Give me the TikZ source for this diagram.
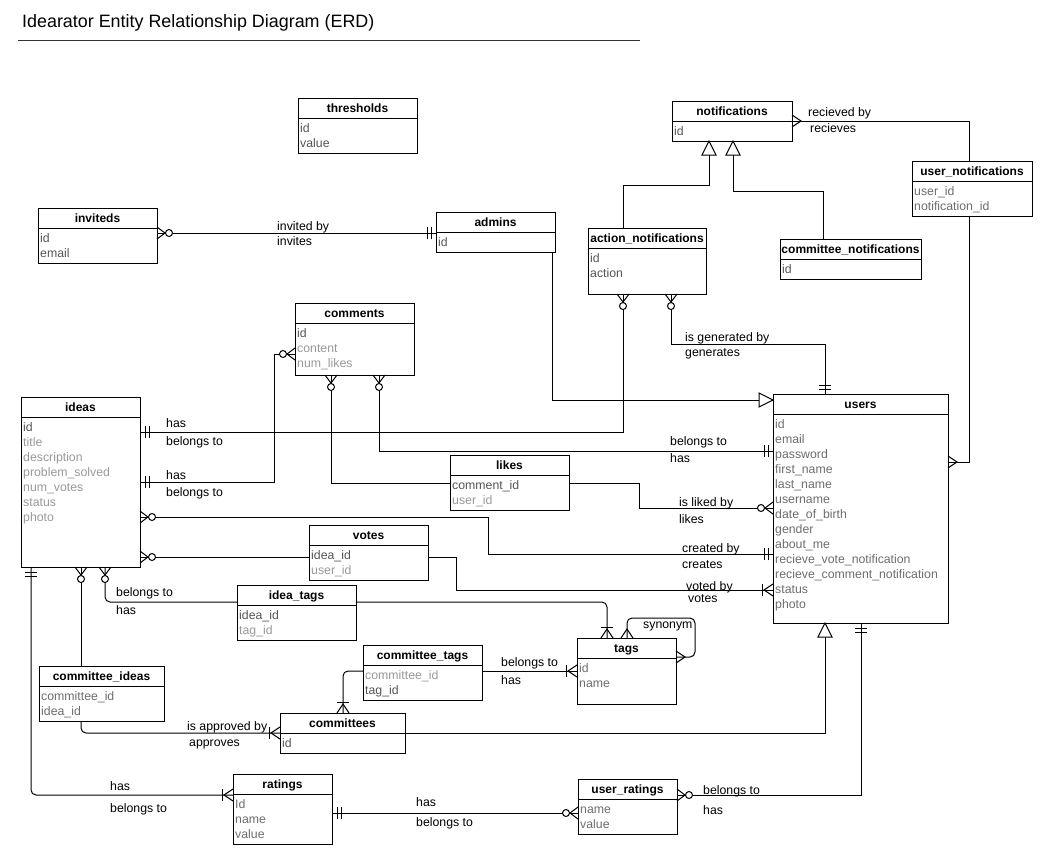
\documentclass[tikz,border=0pt]{standalone}
\usepackage{fontspec}
\setmainfont{Liberation Sans}
\usetikzlibrary{calc}
\definecolor{fd}{HTML}{555555}
\definecolor{fm}{HTML}{6E6E6E}
\definecolor{fl}{HTML}{9A9A9A}
\tikzset{
  ebox/.style={draw, line width=1pt, fill=white, anchor=north west, inner sep=0pt, outer sep=0pt},
  etitle/.style={font=\bfseries\fontsize{12}{14}\selectfont, inner sep=0pt, text height=9pt, text depth=2.5pt, yshift=-1pt},
  efield/.style={font=\fontsize{12.3}{14}\selectfont, anchor=west, inner sep=0pt, text height=9pt, text depth=2.5pt, yshift=-1.5pt},
  lbl/.style={font=\fontsize{12.3}{14}\selectfont, anchor=west, inner sep=0pt, text height=9pt, text depth=2.5pt, yshift=-1.5pt},
  conn/.style={line width=1pt},
  rconn/.style={line width=1pt, rounded corners=5pt},
  pics/zmany/.style={code={
    \draw[line width=1pt] (0,-6) -- (8,0) -- (0,6);
    \draw[line width=1pt, fill=white] (12,0) circle[radius=3.5];}},
  pics/many/.style={code={
    \draw[line width=1pt] (0,-6) -- (9,0) -- (0,6);}},
  pics/onemany/.style={code={
    \draw[line width=1pt] (0,-6) -- (9,0) -- (0,6);
    \draw[line width=1pt] (11,-6) -- (11,6);}},
  pics/oneone/.style={code={
    \draw[line width=1pt] (5,-6) -- (5,6);
    \draw[line width=1pt] (9,-6) -- (9,6);}},
  pics/isa/.style={code={
    \draw[line width=1pt, fill=white] (0,0) -- (14,-7) -- (14,7) -- cycle;}},
}
\newcommand{\ent}[7]{%
  \node[ebox, minimum width=#4pt, minimum height=#5pt] (#1) at (#2,#3) {};
  \draw[line width=1pt] ([yshift=-20pt]#1.north west) -- ([yshift=-20pt]#1.north east);
  \node[etitle] (#1-title) at ([yshift=-10pt]#1.north) {#6};
  \foreach \ftxt/\fcol [count=\fno] in {#7} {
    \node[efield, text=\fcol] (#1-f\fno) at ($(#1.north west)+(2,{15+15*\fno})$) {\ftxt};
  }%
}
\begin{document}
\begin{tikzpicture}[x=1pt,y=-1pt]
\useasboundingbox (0,0) rectangle (1052,865);
\fill[white] (0,0) rectangle (1052,865);

% title
\node[anchor=west, inner sep=0pt, font=\fontsize{17.9}{21}\selectfont] (title) at (22,23) {Idearator Entity Relationship Diagram (ERD)};
\draw[line width=1pt, black!80] (18,40) -- (640,40);

% entities
\ent{thresholds}{298}{98}{119}{55}{thresholds}{id/fd, value/fd}
\ent{inviteds}{38}{208}{119}{55}{inviteds}{id/fd, email/fd}
\ent{admins}{436}{212}{119}{40}{admins}{id/fd}
\ent{notifications}{672}{101}{120}{40}{notifications}{id/fd}
\ent{action}{588}{228}{118}{66}{action\_notifications}{id/fd, action/fd}
\ent{cnotif}{780}{239}{141}{40}{committee\_notifications}{id/fd}
\ent{unotif}{912}{161}{120}{55}{user\_notifications}{user\_id/fm, notification\_id/fm}
\ent{comments}{295}{303}{119}{72}{comments}{id/fd, content/fl, num\_likes/fl}
\ent{ideas}{21}{397}{119}{170}{ideas}{id/fd, title/fl, description/fl, problem\_solved/fl, num\_votes/fl, status/fl, photo/fl}
\ent{users}{773}{394}{175}{229}{users}{id/fm, email/fm, password/fm, first\_name/fm, last\_name/fm, username/fm, date\_of\_birth/fm, gender/fm, about\_me/fm, recieve\_vote\_notification/fm, recieve\_comment\_notification/fm, status/fm, photo/fm}
\ent{likes}{450}{455}{119}{55}{likes}{comment\_id/fd, user\_id/fl}
\ent{votes}{309}{525}{119}{55}{votes}{idea\_id/fd, user\_id/fl}
\ent{ideatags}{237}{585}{119}{55}{idea\_tags}{idea\_id/fd, tag\_id/fl}
\ent{tags}{577}{638}{99}{66}{tags}{id/fm, name/fm}
\ent{ctags}{363}{645}{119}{55}{committee\_tags}{committee\_id/fl, tag\_id/fd}
\ent{cideas}{39}{666}{125}{55}{committee\_ideas}{committee\_id/fm, idea\_id/fm}
\ent{committees}{280}{713}{125}{40}{committees}{id/fd}
\ent{ratings}{233}{774}{99}{70}{ratings}{Id/fm, name/fm, value/fm}
\ent{uratings}{578}{779}{99}{55}{user\_ratings}{name/fm, value/fm}

% ports
\coordinate (p1a) at ($(inviteds.north east)+(0,25)$);
\coordinate (p1b) at ($(admins.north west)+(0,21)$);
\coordinate (p2a) at ($(admins.south east)+(-3,0)$);
\coordinate (p2b) at ($(users.north west)+(0,6)$);
\coordinate (p3a) at ($(notifications.north east)+(0,20)$);
\coordinate (p3b) at ($(unotif.north west)+(57,0)$);
\coordinate (p4a) at ($(unotif.south west)+(57,0)$);
\coordinate (p4b) at ($(users.north east)+(0,68)$);
\coordinate (p5a) at ($(action.north west)+(35,0)$);
\coordinate (p5b) at ($(notifications.south west)+(37,0)$);
\coordinate (p6a) at ($(cnotif.north west)+(43,0)$);
\coordinate (p6b) at ($(notifications.south west)+(61,0)$);
\coordinate (p7a) at ($(action.south west)+(83,0)$);
\coordinate (p7b) at ($(users.north west)+(52,0)$);
\coordinate (p8a) at ($(action.south west)+(35,0)$);
\coordinate (p8b) at ($(ideas.north east)+(0,35)$);
\coordinate (p9a) at ($(comments.north west)+(0,51)$);
\coordinate (p9b) at ($(ideas.north east)+(0,85)$);
\coordinate (p10a) at ($(comments.south west)+(84,0)$);
\coordinate (p10b) at ($(users.north west)+(0,57)$);
\coordinate (p11a) at ($(comments.south west)+(36,0)$);
\coordinate (p11b) at ($(likes.north west)+(0,28)$);
\coordinate (p12a) at ($(likes.north east)+(0,28)$);
\coordinate (p12b) at ($(users.north west)+(0,114)$);
\coordinate (p13a) at ($(ideas.north east)+(0,120)$);
\coordinate (p13b) at ($(users.north west)+(0,160)$);
\coordinate (p14a) at ($(ideas.north east)+(0,160)$);
\coordinate (p14b) at ($(votes.north west)+(0,32)$);
\coordinate (p15a) at ($(votes.north east)+(0,32)$);
\coordinate (p15b) at ($(users.north west)+(0,196)$);
\coordinate (p16a) at ($(ideas.south west)+(84,0)$);
\coordinate (p16b) at ($(ideatags.north west)+(0,17)$);
\coordinate (p17a) at ($(ideatags.north east)+(0,17)$);
\coordinate (p17b) at ($(tags.north west)+(30,0)$);
\coordinate (p18a) at ($(tags.north west)+(50,0)$);
\coordinate (p18b) at ($(tags.north east)+(0,19)$);
\coordinate (p19a) at ($(ctags.north east)+(0,26)$);
\coordinate (p19b) at ($(tags.north west)+(0,33)$);
\coordinate (p20a) at ($(ctags.north west)+(0,26)$);
\coordinate (p20b) at ($(committees.north west)+(63,0)$);
\coordinate (p21a) at ($(ideas.south west)+(60,0)$);
\coordinate (p21b) at ($(cideas.north west)+(42,0)$);
\coordinate (p22a) at ($(cideas.south west)+(42,0)$);
\coordinate (p22b) at ($(committees.north west)+(0,20)$);
\coordinate (p23a) at ($(committees.north east)+(0,20)$);
\coordinate (p23b) at ($(users.south west)+(52,0)$);
\coordinate (p24a) at ($(ideas.south west)+(10,0)$);
\coordinate (p24b) at ($(ratings.north west)+(0,21)$);
\coordinate (p25a) at ($(ratings.north east)+(0,39)$);
\coordinate (p25b) at ($(uratings.north west)+(0,34)$);
\coordinate (p26a) at ($(uratings.north east)+(0,16)$);
\coordinate (p26b) at ($(users.south west)+(88,0)$);

% connectors
\draw[conn] (p1a) -- (p1b);
\draw[conn] (p2a) |- (p2b);
\draw[conn] (p3a) -| (p3b);
\draw[conn] (p4a) |- (p4b);
\draw[conn] (p5a) -- ++(0,-43) -| (p5b);
\draw[conn] (p6a) -- ++(0,-48) -| (p6b);
\draw[conn] (p7a) -- ++(0,50) -| (p7b);
\draw[conn] (p8a) |- (p8b);
\draw[conn] (p9a) -- ++(-21,0) |- (p9b);
\draw[conn] (p10a) |- (p10b);
\draw[conn] (p11a) |- (p11b);
\draw[conn] (p12a) -- ++(70,0) |- (p12b);
\draw[conn] (p13a) -- ++(348,0) |- (p13b);
\draw[conn] (p14a) -- (p14b);
\draw[conn] (p15a) -- ++(28,0) |- (p15b);
\draw[rconn] (p16a) |- (p16b);
\draw[rconn] (p17a) -| (p17b);
\draw[rconn] (p18a) -- ++(0,-20) -| ($(p18b)+(19,0)$) -- (p18b);
\draw[conn] (p19a) -- (p19b);
\draw[rconn] (p20a) -| (p20b);
\draw[conn] (p21a) -- (p21b);
\draw[rconn] (p22a) |- (p22b);
\draw[conn] (p23a) -| (p23b);
\draw[rconn] (p24a) |- (p24b);
\draw[conn] (p25a) -- (p25b);
\draw[conn] (p26a) -| (p26b);

% markers
\pic at (p1a) {zmany}; \pic[rotate=180] at (p1b) {oneone};
\pic[rotate=180] at (p2b) {isa};
\pic at (p3a) {many};
\pic at (p4b) {many};
\pic[rotate=-90] at (p5b) {isa};
\pic[rotate=-90] at (p6b) {isa};
\pic[rotate=-90] at (p7a) {zmany}; \pic[rotate=90] at (p7b) {oneone};
\pic[rotate=-90] at (p8a) {zmany}; \pic at (p8b) {oneone};
\pic[rotate=180] at (p9a) {zmany}; \pic at (p9b) {oneone};
\pic[rotate=-90] at (p10a) {zmany}; \pic[rotate=180] at (p10b) {oneone};
\pic[rotate=-90] at (p11a) {zmany};
\pic[rotate=180] at (p12b) {zmany};
\pic at (p13a) {zmany}; \pic[rotate=180] at (p13b) {oneone};
\pic at (p14a) {zmany};
\pic[rotate=180] at (p15b) {onemany};
\pic[rotate=-90] at (p16a) {zmany};
\pic[rotate=90] at (p17b) {onemany};
\pic[rotate=90] at (p18a) {many}; \pic at (p18b) {many};
\pic[rotate=180] at (p19b) {onemany};
\pic[rotate=90] at (p20b) {onemany};
\pic[rotate=-90] at (p21a) {zmany};
\pic[rotate=180] at (p22b) {onemany};
\pic[rotate=-90] at (p23b) {isa};
\pic[rotate=-90] at (p24a) {oneone}; \pic[rotate=180] at (p24b) {onemany};
\pic at (p25a) {oneone}; \pic[rotate=180] at (p25b) {zmany};
\pic at (p26a) {zmany}; \pic[rotate=-90] at (p26b) {oneone};

% labels
\node[lbl] (l1a) at (277,226) {invited by};
\node[lbl] (l1b) at (277,241) {invites};
\node[lbl] (l3a) at (808,112) {recieved by};
\node[lbl] (l3b) at (810,128) {recieves};
\node[lbl] (l7a) at (685,337) {is generated by};
\node[lbl] (l7b) at (685,352) {generates};
\node[lbl] (l8a) at (166,423) {has};
\node[lbl] (l8b) at (166,441) {belongs to};
\node[lbl] (l9a) at (166,475) {has};
\node[lbl] (l9b) at (166,492) {belongs to};
\node[lbl] (l10a) at (670,441) {belongs to};
\node[lbl] (l10b) at (670,458) {has};
\node[lbl] (l12a) at (679,502) {is liked by};
\node[lbl] (l12b) at (679,519) {likes};
\node[lbl] (l13a) at (682,548) {created by};
\node[lbl] (l13b) at (682,564) {creates};
\node[lbl] (l15a) at (686,586) {voted by};
\node[lbl] (l15b) at (688,598) {votes};
\node[lbl] (l16a) at (116,592) {belongs to};
\node[lbl] (l16b) at (116,610) {has};
\node[lbl] (l18) at (643,624) {synonym};
\node[lbl] (l19a) at (501,662) {belongs to};
\node[lbl] (l19b) at (501,680) {has};
\node[lbl] (l22a) at (187,726) {is approved by};
\node[lbl] (l22b) at (189,742) {approves};
\node[lbl] (l24a) at (110,786) {has};
\node[lbl] (l24b) at (110,808) {belongs to};
\node[lbl] (l25a) at (416,802) {has};
\node[lbl] (l25b) at (416,822) {belongs to};
\node[lbl] (l26a) at (703,790) {belongs to};
\node[lbl] (l26b) at (703,810) {has};
\end{tikzpicture}
\end{document}
